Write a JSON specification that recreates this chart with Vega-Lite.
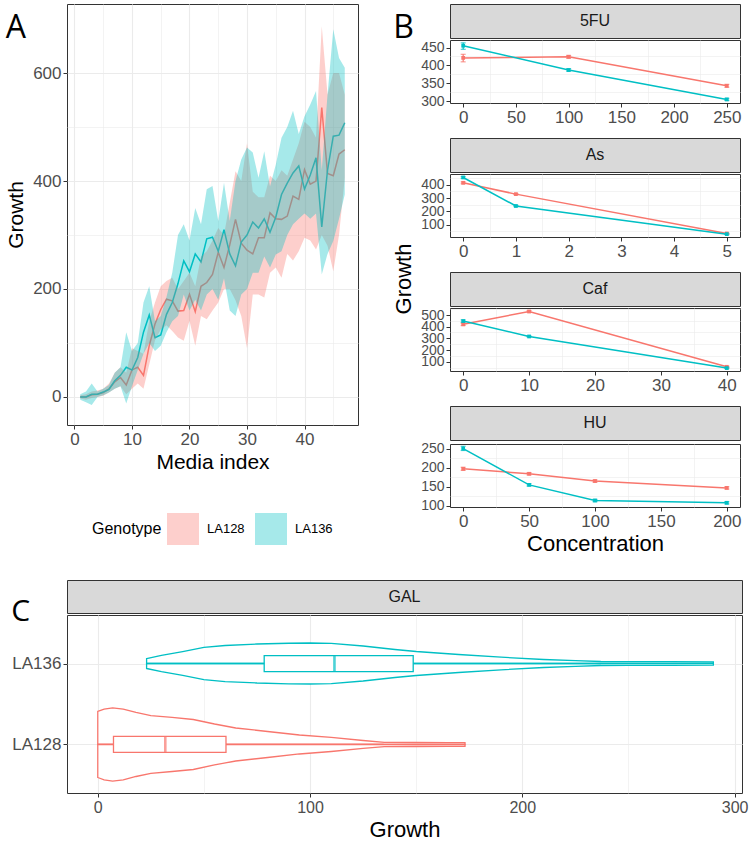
{
 "$schema": "https://vega.github.io/schema/vega-lite/v6.json",
 "padding": {"left": 5, "top": 3, "right": 5, "bottom": 3},
 "config": {
  "font": "Liberation Sans",
  "view": {"stroke": "#333333", "strokeWidth": 1},
  "axis": {"domain": false, "gridColor": "#ebebeb", "gridWidth": 1.1, "tickColor": "#333333", "tickSize": 4, "labelColor": "#4d4d4d", "titleColor": "#000000", "titleFontWeight": "normal", "labelPadding": 2},
  "title": {"fontWeight": "normal", "anchor": "start", "frame": "bounds", "color": "#000000"}
 },
 "datasets": {
  "ts": [
   {"Genotype":"LA128","index":1,"mean":0,"lower":-3,"upper":3},
   {"Genotype":"LA128","index":2,"mean":0,"lower":-5,"upper":5},
   {"Genotype":"LA128","index":3,"mean":4,"lower":-2,"upper":10},
   {"Genotype":"LA128","index":4,"mean":5,"lower":0,"upper":12},
   {"Genotype":"LA128","index":5,"mean":8,"lower":2,"upper":15},
   {"Genotype":"LA128","index":6,"mean":15,"lower":8,"upper":25},
   {"Genotype":"LA128","index":7,"mean":28,"lower":15,"upper":45},
   {"Genotype":"LA128","index":8,"mean":36,"lower":20,"upper":55},
   {"Genotype":"LA128","index":9,"mean":22,"lower":5,"upper":45},
   {"Genotype":"LA128","index":10,"mean":50,"lower":15,"upper":90},
   {"Genotype":"LA128","index":11,"mean":55,"lower":25,"upper":85},
   {"Genotype":"LA128","index":12,"mean":40,"lower":15,"upper":80},
   {"Genotype":"LA128","index":13,"mean":95,"lower":60,"upper":140},
   {"Genotype":"LA128","index":14,"mean":135,"lower":105,"upper":175},
   {"Genotype":"LA128","index":15,"mean":162,"lower":125,"upper":205},
   {"Genotype":"LA128","index":16,"mean":181,"lower":133,"upper":215},
   {"Genotype":"LA128","index":17,"mean":178,"lower":122,"upper":221},
   {"Genotype":"LA128","index":18,"mean":159,"lower":110,"upper":200},
   {"Genotype":"LA128","index":19,"mean":160,"lower":104,"upper":215},
   {"Genotype":"LA128","index":20,"mean":190,"lower":141,"upper":230},
   {"Genotype":"LA128","index":21,"mean":158,"lower":95,"upper":205},
   {"Genotype":"LA128","index":22,"mean":205,"lower":150,"upper":260},
   {"Genotype":"LA128","index":23,"mean":212,"lower":144,"upper":270},
   {"Genotype":"LA128","index":24,"mean":227,"lower":160,"upper":290},
   {"Genotype":"LA128","index":25,"mean":268,"lower":175,"upper":313},
   {"Genotype":"LA128","index":26,"mean":240,"lower":200,"upper":300},
   {"Genotype":"LA128","index":27,"mean":282,"lower":200,"upper":360},
   {"Genotype":"LA128","index":28,"mean":329,"lower":179,"upper":418},
   {"Genotype":"LA128","index":29,"mean":285,"lower":150,"upper":400},
   {"Genotype":"LA128","index":30,"mean":272,"lower":90,"upper":470},
   {"Genotype":"LA128","index":31,"mean":265,"lower":190,"upper":380},
   {"Genotype":"LA128","index":32,"mean":295,"lower":190,"upper":370},
   {"Genotype":"LA128","index":33,"mean":295,"lower":184,"upper":370},
   {"Genotype":"LA128","index":34,"mean":341,"lower":230,"upper":410},
   {"Genotype":"LA128","index":35,"mean":330,"lower":240,"upper":400},
   {"Genotype":"LA128","index":36,"mean":329,"lower":221,"upper":420},
   {"Genotype":"LA128","index":37,"mean":335,"lower":265,"upper":410},
   {"Genotype":"LA128","index":38,"mean":372,"lower":253,"upper":440},
   {"Genotype":"LA128","index":39,"mean":366,"lower":270,"upper":470},
   {"Genotype":"LA128","index":40,"mean":421,"lower":295,"upper":510},
   {"Genotype":"LA128","index":41,"mean":394,"lower":290,"upper":500},
   {"Genotype":"LA128","index":42,"mean":400,"lower":273,"upper":480},
   {"Genotype":"LA128","index":43,"mean":536,"lower":300,"upper":687},
   {"Genotype":"LA128","index":44,"mean":414,"lower":280,"upper":560},
   {"Genotype":"LA128","index":45,"mean":410,"lower":233,"upper":600},
   {"Genotype":"LA128","index":46,"mean":450,"lower":300,"upper":600},
   {"Genotype":"LA128","index":47,"mean":458,"lower":406,"upper":560},
   {"Genotype":"LA136","index":1,"mean":0,"lower":-5,"upper":5},
   {"Genotype":"LA136","index":2,"mean":0,"lower":-10,"upper":10},
   {"Genotype":"LA136","index":3,"mean":5,"lower":-15,"upper":25},
   {"Genotype":"LA136","index":4,"mean":5,"lower":0,"upper":10},
   {"Genotype":"LA136","index":5,"mean":9,"lower":3,"upper":15},
   {"Genotype":"LA136","index":6,"mean":14,"lower":8,"upper":22},
   {"Genotype":"LA136","index":7,"mean":30,"lower":15,"upper":45},
   {"Genotype":"LA136","index":8,"mean":40,"lower":20,"upper":55},
   {"Genotype":"LA136","index":9,"mean":55,"lower":-12,"upper":120},
   {"Genotype":"LA136","index":10,"mean":50,"lower":20,"upper":85},
   {"Genotype":"LA136","index":11,"mean":73,"lower":50,"upper":100},
   {"Genotype":"LA136","index":12,"mean":120,"lower":80,"upper":175},
   {"Genotype":"LA136","index":13,"mean":152,"lower":100,"upper":205},
   {"Genotype":"LA136","index":14,"mean":110,"lower":85,"upper":140},
   {"Genotype":"LA136","index":15,"mean":115,"lower":95,"upper":150},
   {"Genotype":"LA136","index":16,"mean":153,"lower":120,"upper":185},
   {"Genotype":"LA136","index":17,"mean":175,"lower":140,"upper":230},
   {"Genotype":"LA136","index":18,"mean":210,"lower":150,"upper":300},
   {"Genotype":"LA136","index":19,"mean":252,"lower":190,"upper":320},
   {"Genotype":"LA136","index":20,"mean":232,"lower":160,"upper":290},
   {"Genotype":"LA136","index":21,"mean":265,"lower":180,"upper":350},
   {"Genotype":"LA136","index":22,"mean":250,"lower":160,"upper":320},
   {"Genotype":"LA136","index":23,"mean":293,"lower":190,"upper":385},
   {"Genotype":"LA136","index":24,"mean":296,"lower":200,"upper":391},
   {"Genotype":"LA136","index":25,"mean":270,"lower":180,"upper":326},
   {"Genotype":"LA136","index":26,"mean":310,"lower":220,"upper":397},
   {"Genotype":"LA136","index":27,"mean":265,"lower":160,"upper":326},
   {"Genotype":"LA136","index":28,"mean":243,"lower":150,"upper":400},
   {"Genotype":"LA136","index":29,"mean":287,"lower":190,"upper":440},
   {"Genotype":"LA136","index":30,"mean":300,"lower":200,"upper":462},
   {"Genotype":"LA136","index":31,"mean":324,"lower":230,"upper":453},
   {"Genotype":"LA136","index":32,"mean":313,"lower":230,"upper":406},
   {"Genotype":"LA136","index":33,"mean":330,"lower":260,"upper":455},
   {"Genotype":"LA136","index":34,"mean":305,"lower":240,"upper":390},
   {"Genotype":"LA136","index":35,"mean":333,"lower":264,"upper":430},
   {"Genotype":"LA136","index":36,"mean":375,"lower":270,"upper":480},
   {"Genotype":"LA136","index":37,"mean":396,"lower":300,"upper":500},
   {"Genotype":"LA136","index":38,"mean":415,"lower":320,"upper":530},
   {"Genotype":"LA136","index":39,"mean":428,"lower":330,"upper":487},
   {"Genotype":"LA136","index":40,"mean":385,"lower":340,"upper":520},
   {"Genotype":"LA136","index":41,"mean":411,"lower":330,"upper":542},
   {"Genotype":"LA136","index":42,"mean":443,"lower":340,"upper":567},
   {"Genotype":"LA136","index":43,"mean":315,"lower":227,"upper":420},
   {"Genotype":"LA136","index":44,"mean":420,"lower":265,"upper":560},
   {"Genotype":"LA136","index":45,"mean":483,"lower":289,"upper":681},
   {"Genotype":"LA136","index":46,"mean":485,"lower":330,"upper":628},
   {"Genotype":"LA136","index":47,"mean":508,"lower":375,"upper":610}
  ],
  "drug": [
   {"Drug":"5FU","Genotype":"LA128","conc":0,"growth":421,"lower":410,"upper":431},
   {"Drug":"5FU","Genotype":"LA128","conc":100,"growth":424,"lower":420,"upper":428},
   {"Drug":"5FU","Genotype":"LA128","conc":250,"growth":343,"lower":339,"upper":347},
   {"Drug":"5FU","Genotype":"LA136","conc":0,"growth":455,"lower":445,"upper":463},
   {"Drug":"5FU","Genotype":"LA136","conc":100,"growth":387,"lower":384,"upper":391},
   {"Drug":"5FU","Genotype":"LA136","conc":250,"growth":305,"lower":302,"upper":308},
   {"Drug":"As","Genotype":"LA128","conc":0,"growth":415,"lower":408,"upper":422},
   {"Drug":"As","Genotype":"LA128","conc":1,"growth":330,"lower":326,"upper":334},
   {"Drug":"As","Genotype":"LA128","conc":5,"growth":35,"lower":32,"upper":38},
   {"Drug":"As","Genotype":"LA136","conc":0,"growth":455,"lower":448,"upper":462},
   {"Drug":"As","Genotype":"LA136","conc":1,"growth":241,"lower":237,"upper":245},
   {"Drug":"As","Genotype":"LA136","conc":5,"growth":30,"lower":27,"upper":33},
   {"Drug":"Caf","Genotype":"LA128","conc":0,"growth":420,"lower":410,"upper":430},
   {"Drug":"Caf","Genotype":"LA128","conc":10,"growth":530,"lower":522,"upper":538},
   {"Drug":"Caf","Genotype":"LA128","conc":40,"growth":56,"lower":52,"upper":60},
   {"Drug":"Caf","Genotype":"LA136","conc":0,"growth":448,"lower":438,"upper":458},
   {"Drug":"Caf","Genotype":"LA136","conc":10,"growth":316,"lower":312,"upper":320},
   {"Drug":"Caf","Genotype":"LA136","conc":40,"growth":45,"lower":41,"upper":49},
   {"Drug":"HU","Genotype":"LA128","conc":0,"growth":197,"lower":193,"upper":201},
   {"Drug":"HU","Genotype":"LA128","conc":50,"growth":184,"lower":181,"upper":187},
   {"Drug":"HU","Genotype":"LA128","conc":100,"growth":165,"lower":162,"upper":168},
   {"Drug":"HU","Genotype":"LA128","conc":200,"growth":147,"lower":144,"upper":150},
   {"Drug":"HU","Genotype":"LA136","conc":0,"growth":250,"lower":245,"upper":256},
   {"Drug":"HU","Genotype":"LA136","conc":50,"growth":155,"lower":152,"upper":158},
   {"Drug":"HU","Genotype":"LA136","conc":100,"growth":114,"lower":111,"upper":117},
   {"Drug":"HU","Genotype":"LA136","conc":200,"growth":108,"lower":105,"upper":111}
  ],
  "violin": [
   {"Genotype":"LA136","growth":23,"density":1.55},
   {"Genotype":"LA136","growth":30,"density":2.5},
   {"Genotype":"LA136","growth":40,"density":3.7},
   {"Genotype":"LA136","growth":50,"density":5.0},
   {"Genotype":"LA136","growth":60,"density":5.6},
   {"Genotype":"LA136","growth":75,"density":6.06},
   {"Genotype":"LA136","growth":90,"density":6.3},
   {"Genotype":"LA136","growth":100,"density":6.37},
   {"Genotype":"LA136","growth":110,"density":6.28},
   {"Genotype":"LA136","growth":125,"density":5.44},
   {"Genotype":"LA136","growth":140,"density":4.35},
   {"Genotype":"LA136","growth":150,"density":3.73},
   {"Genotype":"LA136","growth":170,"density":2.8},
   {"Genotype":"LA136","growth":190,"density":1.96},
   {"Genotype":"LA136","growth":210,"density":1.24},
   {"Genotype":"LA136","growth":225,"density":0.87},
   {"Genotype":"LA136","growth":237,"density":0.62},
   {"Genotype":"LA136","growth":250,"density":0.59},
   {"Genotype":"LA136","growth":270,"density":0.56},
   {"Genotype":"LA136","growth":290,"density":0.5},
   {"Genotype":"LA128","growth":0,"density":10.26},
   {"Genotype":"LA128","growth":3,"density":11.0},
   {"Genotype":"LA128","growth":7,"density":11.4},
   {"Genotype":"LA128","growth":12,"density":11.0},
   {"Genotype":"LA128","growth":18,"density":9.95},
   {"Genotype":"LA128","growth":25,"density":9.0},
   {"Genotype":"LA128","growth":35,"density":8.4},
   {"Genotype":"LA128","growth":45,"density":7.77},
   {"Genotype":"LA128","growth":55,"density":6.37},
   {"Genotype":"LA128","growth":65,"density":5.13},
   {"Genotype":"LA128","growth":80,"density":4.04},
   {"Genotype":"LA128","growth":95,"density":2.95},
   {"Genotype":"LA128","growth":110,"density":2.18},
   {"Genotype":"LA128","growth":125,"density":1.24},
   {"Genotype":"LA128","growth":135,"density":0.68},
   {"Genotype":"LA128","growth":150,"density":0.62},
   {"Genotype":"LA128","growth":165,"density":0.59},
   {"Genotype":"LA128","growth":173,"density":0.56}
  ],
  "box": [
   {"Genotype":"LA136","lower":23,"q1":78.4,"median":111.5,"q3":148.6,"upper":237},
   {"Genotype":"LA128","lower":0,"q1":7.4,"median":31.8,"q3":60.4,"upper":134.7}
  ]
 },
 "resolve": {"scale": {"x": "independent", "y": "independent", "color": "independent", "fill": "independent", "stroke": "independent"}},
 "spacing": 24,
 "vconcat": [
  {
   "hconcat": [
    {
     "title": {"text": "A", "fontSize": 32, "offset": -41, "font": "Open Sans"},
     "width": 291, "height": 421,
     "data": {"name": "ts"},
     "resolve": {"axis": {"x": "independent", "y": "independent"}},
     "layer": [
      {
       "mark": {"type": "line", "strokeWidth": 1.5},
       "encoding": {
        "x": {"field": "index", "type": "quantitative", "scale": {"domain": [-1.3, 49.3], "nice": false, "zero": false}, "axis": {"values": [0, 10, 20, 30, 40], "title": "Media index", "labelFontSize": 17, "titleFontSize": 21, "titlePadding": 4}},
        "y": {"field": "mean", "type": "quantitative", "scale": {"domain": [-52, 728], "nice": false, "zero": false}, "axis": {"values": [0, 200, 400, 600], "title": "Growth", "labelFontSize": 17, "titleFontSize": 21, "titlePadding": 6}},
        "color": {"field": "Genotype", "type": "nominal", "scale": {"range": ["#F8766D", "#00BFC4"]}, "legend": null}
       }
      },
      {
       "mark": {"type": "area", "opacity": 0.35},
       "encoding": {
        "x": {"field": "index", "type": "quantitative", "axis": {"values": [5, 15, 25, 35, 45], "grid": true, "gridWidth": 0.6, "labels": false, "ticks": false, "title": null}},
        "y": {"field": "lower", "type": "quantitative", "axis": {"values": [100, 300, 500], "grid": true, "gridWidth": 0.6, "labels": false, "ticks": false, "title": null}},
        "y2": {"field": "upper"},
        "fill": {"field": "Genotype", "type": "nominal", "scale": {"domain": ["LA128", "LA136"], "range": ["#F8766D", "#00BFC4"]},
         "legend": {"title": "Genotype", "orient": "none", "legendX": 25, "legendY": 509, "direction": "horizontal", "titleOrient": "left", "symbolType": "square", "symbolSize": 1024, "symbolOpacity": 0.35, "symbolStrokeWidth": 0, "labelFontSize": 13, "titleFontSize": 16, "titleFontWeight": "normal", "titleColor": "#000000", "labelColor": "#000000", "columnPadding": 10, "labelOffset": 8}}
       }
      }
     ]
    },
    {
     "title": {"text": "B", "fontSize": 32, "offset": -41, "font": "Open Sans"},
     "resolve": {"scale": {"x": "independent", "y": "independent", "color": "independent"}},
     "vconcat": [
      {
       "title": {"text": "Growth", "orient": "left", "anchor": "middle", "fontSize": 22, "frame": "bounds"},
       "spacing": 11,
       "resolve": {"scale": {"x": "independent", "y": "independent", "color": "independent"}},
       "vconcat": [
        {
         "spacing": 0,
         "vconcat": [
          {"width": 290, "height": 34, "data": {"values": [{"Drug": "5FU"}]}, "view": {"fill": "#d9d9d9", "stroke": "#333333"}, "mark": {"type": "text", "fontSize": 16, "color": "#1a1a1a"}, "encoding": {"text": {"field": "Drug"}}},
          {
           "width": 290, "height": 63, "data": {"name": "drug"}, "transform": [{"filter": "datum.Drug === '5FU'"}],
           "resolve": {"axis": {"x": "independent", "y": "independent"}},
           "layer": [
            {"mark": {"type": "errorbar", "ticks": true, "thickness": 1.2}, "encoding": {"x": {"field": "conc", "type": "quantitative", "scale": {"domain": [-12.5, 262.5], "nice": false, "zero": false}, "axis": null}, "y": {"field": "lower", "type": "quantitative", "scale": {"domain": [295, 471], "nice": false, "zero": false}, "axis": null}, "y2": {"field": "upper"}, "color": {"field": "Genotype", "type": "nominal", "scale": {"domain": ["LA128", "LA136"], "range": ["#F8766D", "#00BFC4"]}, "legend": null}}},
            {"mark": {"type": "line", "strokeWidth": 1.5}, "encoding": {"x": {"field": "conc", "type": "quantitative", "axis": {"values": [0, 50, 100, 150, 200, 250], "title": null, "labelFontSize": 17}}, "y": {"field": "growth", "type": "quantitative", "axis": {"values": [300, 350, 400, 450], "title": null, "labelFontSize": 14, "labelOverlap": false}}, "color": {"field": "Genotype", "type": "nominal", "legend": null}}},
            {"mark": {"type": "square", "size": 14, "opacity": 1}, "encoding": {"x": {"field": "conc", "type": "quantitative", "axis": {"values": [25, 75, 125, 175, 225], "grid": true, "gridWidth": 0.6, "labels": false, "ticks": false, "title": null}}, "y": {"field": "growth", "type": "quantitative", "axis": {"values": [325, 375, 425], "grid": true, "gridWidth": 0.6, "labels": false, "ticks": false, "title": null}}, "color": {"field": "Genotype", "type": "nominal", "legend": null}}}
           ]
          }
         ]
        },
        {
         "spacing": 0,
         "vconcat": [
          {"width": 290, "height": 34, "data": {"values": [{"Drug": "As"}]}, "view": {"fill": "#d9d9d9", "stroke": "#333333"}, "mark": {"type": "text", "fontSize": 16, "color": "#1a1a1a"}, "encoding": {"text": {"field": "Drug"}}},
          {
           "width": 290, "height": 63, "data": {"name": "drug"}, "transform": [{"filter": "datum.Drug === 'As'"}],
           "resolve": {"axis": {"x": "independent", "y": "independent"}},
           "layer": [
            {"mark": {"type": "errorbar", "ticks": true, "thickness": 1.2}, "encoding": {"x": {"field": "conc", "type": "quantitative", "scale": {"domain": [-0.25, 5.25], "nice": false, "zero": false}, "axis": null}, "y": {"field": "lower", "type": "quantitative", "scale": {"domain": [8.5, 481], "nice": false, "zero": false}, "axis": null}, "y2": {"field": "upper"}, "color": {"field": "Genotype", "type": "nominal", "scale": {"domain": ["LA128", "LA136"], "range": ["#F8766D", "#00BFC4"]}, "legend": null}}},
            {"mark": {"type": "line", "strokeWidth": 1.5}, "encoding": {"x": {"field": "conc", "type": "quantitative", "axis": {"values": [0, 1, 2, 3, 4, 5], "title": null, "labelFontSize": 17}}, "y": {"field": "growth", "type": "quantitative", "axis": {"values": [100, 200, 300, 400], "title": null, "labelFontSize": 14, "labelOverlap": false}}, "color": {"field": "Genotype", "type": "nominal", "legend": null}}},
            {"mark": {"type": "square", "size": 14, "opacity": 1}, "encoding": {"x": {"field": "conc", "type": "quantitative", "axis": {"values": [0.5, 1.5, 2.5, 3.5, 4.5], "grid": true, "gridWidth": 0.6, "labels": false, "ticks": false, "title": null}}, "y": {"field": "growth", "type": "quantitative", "axis": {"values": [50, 150, 250, 350, 450], "grid": true, "gridWidth": 0.6, "labels": false, "ticks": false, "title": null}}, "color": {"field": "Genotype", "type": "nominal", "legend": null}}}
           ]
          }
         ]
        },
        {
         "spacing": 0,
         "vconcat": [
          {"width": 290, "height": 34, "data": {"values": [{"Drug": "Caf"}]}, "view": {"fill": "#d9d9d9", "stroke": "#333333"}, "mark": {"type": "text", "fontSize": 16, "color": "#1a1a1a"}, "encoding": {"text": {"field": "Drug"}}},
          {
           "width": 290, "height": 63, "data": {"name": "drug"}, "transform": [{"filter": "datum.Drug === 'Caf'"}],
           "resolve": {"axis": {"x": "independent", "y": "independent"}},
           "layer": [
            {"mark": {"type": "errorbar", "ticks": true, "thickness": 1.2}, "encoding": {"x": {"field": "conc", "type": "quantitative", "scale": {"domain": [-2, 42], "nice": false, "zero": false}, "axis": null}, "y": {"field": "lower", "type": "quantitative", "scale": {"domain": [20, 560], "nice": false, "zero": false}, "axis": null}, "y2": {"field": "upper"}, "color": {"field": "Genotype", "type": "nominal", "scale": {"domain": ["LA128", "LA136"], "range": ["#F8766D", "#00BFC4"]}, "legend": null}}},
            {"mark": {"type": "line", "strokeWidth": 1.5}, "encoding": {"x": {"field": "conc", "type": "quantitative", "axis": {"values": [0, 10, 20, 30, 40], "title": null, "labelFontSize": 17}}, "y": {"field": "growth", "type": "quantitative", "axis": {"values": [100, 200, 300, 400, 500], "title": null, "labelFontSize": 14, "labelOverlap": false}}, "color": {"field": "Genotype", "type": "nominal", "legend": null}}},
            {"mark": {"type": "square", "size": 14, "opacity": 1}, "encoding": {"x": {"field": "conc", "type": "quantitative", "axis": {"values": [5, 15, 25, 35], "grid": true, "gridWidth": 0.6, "labels": false, "ticks": false, "title": null}}, "y": {"field": "growth", "type": "quantitative", "axis": {"values": [50, 150, 250, 350, 450, 550], "grid": true, "gridWidth": 0.6, "labels": false, "ticks": false, "title": null}}, "color": {"field": "Genotype", "type": "nominal", "legend": null}}}
           ]
          }
         ]
        },
        {
         "spacing": 0,
         "vconcat": [
          {"width": 290, "height": 34, "data": {"values": [{"Drug": "HU"}]}, "view": {"fill": "#d9d9d9", "stroke": "#333333"}, "mark": {"type": "text", "fontSize": 16, "color": "#1a1a1a"}, "encoding": {"text": {"field": "Drug"}}},
          {
           "width": 290, "height": 63, "data": {"name": "drug"}, "transform": [{"filter": "datum.Drug === 'HU'"}],
           "resolve": {"axis": {"x": "independent", "y": "independent"}},
           "layer": [
            {"mark": {"type": "errorbar", "ticks": true, "thickness": 1.2}, "encoding": {"x": {"field": "conc", "type": "quantitative", "scale": {"domain": [-10, 210], "nice": false, "zero": false}, "axis": null}, "y": {"field": "lower", "type": "quantitative", "scale": {"domain": [97, 262], "nice": false, "zero": false}, "axis": null}, "y2": {"field": "upper"}, "color": {"field": "Genotype", "type": "nominal", "scale": {"domain": ["LA128", "LA136"], "range": ["#F8766D", "#00BFC4"]}, "legend": null}}},
            {"mark": {"type": "line", "strokeWidth": 1.5}, "encoding": {"x": {"field": "conc", "type": "quantitative", "axis": {"values": [0, 50, 100, 150, 200], "title": "Concentration", "titleFontSize": 22, "titlePadding": 4, "labelFontSize": 17}}, "y": {"field": "growth", "type": "quantitative", "axis": {"values": [100, 150, 200, 250], "title": null, "labelFontSize": 14, "labelOverlap": false}}, "color": {"field": "Genotype", "type": "nominal", "legend": null}}},
            {"mark": {"type": "square", "size": 14, "opacity": 1}, "encoding": {"x": {"field": "conc", "type": "quantitative", "axis": {"values": [25, 75, 125, 175], "grid": true, "gridWidth": 0.6, "labels": false, "ticks": false, "title": null}}, "y": {"field": "growth", "type": "quantitative", "axis": {"values": [125, 175, 225], "grid": true, "gridWidth": 0.6, "labels": false, "ticks": false, "title": null}}, "color": {"field": "Genotype", "type": "nominal", "legend": null}}}
           ]
          }
         ]
        }
       ]
      }
     ]
    }
   ],
   "spacing": 34,
   "resolve": {"scale": {"x": "independent", "y": "independent", "color": "independent", "fill": "independent"}}
  },
  {
   "title": {"text": "C", "fontSize": 30, "offset": -47, "font": "Open Sans"},
   "spacing": 0,
   "resolve": {"scale": {"x": "independent", "y": "independent", "color": "independent", "stroke": "independent"}},
   "vconcat": [
    {"width": 675, "height": 33, "data": {"values": [{"Medium": "GAL"}]}, "view": {"fill": "#d9d9d9", "stroke": "#333333"}, "mark": {"type": "text", "fontSize": 16, "color": "#1a1a1a"}, "encoding": {"text": {"field": "Medium"}}},
    {
     "width": 675, "height": 178,
     "resolve": {"scale": {"y": "independent"}, "axis": {"x": "independent", "y": "independent"}},
     "layer": [
      {
       "data": {"name": "violin"}, "transform": [{"filter": "datum.Genotype === 'LA136'"}],
       "mark": {"type": "area", "orient": "vertical", "fill": "#ffffff", "strokeWidth": 1.3},
       "encoding": {
        "x": {"field": "growth", "type": "quantitative", "scale": {"domain": [-14.5, 303.5], "nice": false, "zero": false}, "axis": {"values": [0, 100, 200, 300], "title": "Growth", "labelFontSize": 16, "titleFontSize": 22, "titlePadding": 4}},
        "y": {"field": "density", "type": "quantitative", "scale": {"domain": [-40.25, 15.08], "nice": false, "zero": false}, "axis": null},
        "y2": {"datum": 0},
        "stroke": {"field": "Genotype", "type": "nominal", "scale": {"domain": ["LA128", "LA136"], "range": ["#F8766D", "#00BFC4"]}, "legend": null}
       }
      },
      {
       "data": {"name": "violin"}, "transform": [{"filter": "datum.Genotype === 'LA136'"}],
       "mark": {"type": "area", "orient": "vertical", "fill": "#ffffff", "strokeWidth": 1.3},
       "encoding": {
        "x": {"field": "growth", "type": "quantitative", "axis": {"values": [50, 150, 250], "grid": true, "gridWidth": 0.6, "labels": false, "ticks": false, "title": null}},
        "y": {"field": "density", "type": "quantitative", "scale": {"domain": [-15.08, 40.25], "reverse": true, "nice": false, "zero": false}, "axis": null},
        "y2": {"datum": 0},
        "stroke": {"field": "Genotype", "type": "nominal", "legend": null}
       }
      },
      {
       "data": {"name": "violin"}, "transform": [{"filter": "datum.Genotype === 'LA128'"}],
       "mark": {"type": "area", "orient": "vertical", "fill": "#ffffff", "strokeWidth": 1.3},
       "encoding": {
        "x": {"field": "growth", "type": "quantitative", "axis": null},
        "y": {"field": "density", "type": "quantitative", "scale": {"domain": [-15.08, 40.25], "nice": false, "zero": false}, "axis": null},
        "y2": {"datum": 0},
        "stroke": {"field": "Genotype", "type": "nominal", "legend": null}
       }
      },
      {
       "data": {"name": "violin"}, "transform": [{"filter": "datum.Genotype === 'LA128'"}],
       "mark": {"type": "area", "orient": "vertical", "fill": "#ffffff", "strokeWidth": 1.3},
       "encoding": {
        "x": {"field": "growth", "type": "quantitative", "axis": null},
        "y": {"field": "density", "type": "quantitative", "scale": {"domain": [-40.25, 15.08], "reverse": true, "nice": false, "zero": false}, "axis": null},
        "y2": {"datum": 0},
        "stroke": {"field": "Genotype", "type": "nominal", "legend": null}
       }
      },
      {
       "data": {"name": "box"},
       "mark": {"type": "rule", "strokeWidth": 1.3},
       "encoding": {
        "x": {"field": "lower", "type": "quantitative", "axis": null},
        "x2": {"field": "upper"},
        "y": {"field": "Genotype", "type": "nominal", "scale": {"type": "point", "domain": ["LA136", "LA128"], "padding": 0.6}, "axis": {"title": null, "grid": true, "labelFontSize": 17}},
        "color": {"field": "Genotype", "type": "nominal", "scale": {"domain": ["LA128", "LA136"], "range": ["#F8766D", "#00BFC4"]}, "legend": null}
       }
      },
      {
       "data": {"name": "box"},
       "mark": {"type": "bar", "orient": "horizontal", "fill": "#ffffff", "strokeWidth": 1.3, "height": 16},
       "encoding": {
        "x": {"field": "q1", "type": "quantitative", "axis": null},
        "x2": {"field": "q3"},
        "y": {"field": "Genotype", "type": "nominal", "scale": {"type": "point", "domain": ["LA136", "LA128"], "padding": 0.6}, "axis": null},
        "stroke": {"field": "Genotype", "type": "nominal", "legend": null}
       }
      },
      {
       "data": {"name": "box"},
       "mark": {"type": "tick", "thickness": 2.6, "size": 16},
       "encoding": {
        "x": {"field": "median", "type": "quantitative", "axis": null},
        "y": {"field": "Genotype", "type": "nominal", "scale": {"type": "point", "domain": ["LA136", "LA128"], "padding": 0.6}, "axis": null},
        "color": {"field": "Genotype", "type": "nominal", "scale": {"domain": ["LA128", "LA136"], "range": ["#F8766D", "#00BFC4"]}, "legend": null}
       }
      }
     ]
    }
   ]
  }
 ]
}
